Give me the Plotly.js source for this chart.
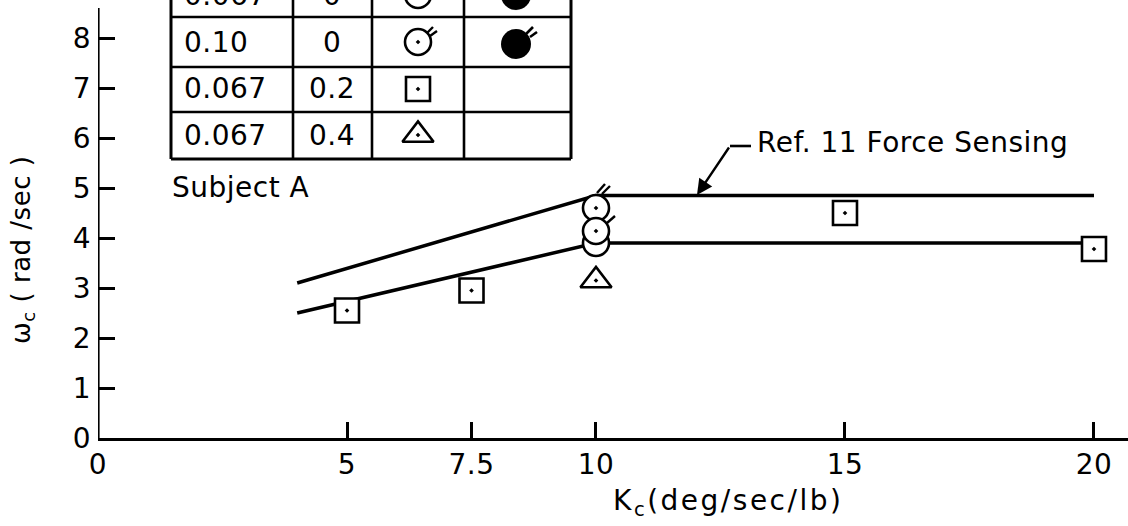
<!DOCTYPE html>
<html>
<head>
<meta charset="utf-8">
<script src="https://cdn.plot.ly/plotly-3.0.1.min.js"></script>
<style>
  html, body { margin: 0; padding: 0; background: #fff; }
  #chart { width: 1128px; height: 526px; }
  text { letter-spacing: 0.5px; }
</style>
</head>
<body>
<div id="chart"></div>
<script>
// Crossover frequency against control gain, Subject A
const squareKc = [5, 7.5, 15, 20];          // tau 0.067, K 0.2
const squareWc = [2.55, 2.95, 4.5, 3.78];
const triangleKc = [10];                     // tau 0.067, K 0.4
const triangleWc = [3.15];
const circleKc = [10];                       // tau 0.067, K 0
const circleWc = [3.9];
const flagCircleKc = [10, 10];               // tau 0.10, K 0
const flagCircleWc = [4.6, 4.14];
const flagCount = [2, 1];

// Ref. 11 force-sensing fairings
const refKc = [4, 10, 20];
const refUpperWc = [3.1, 4.85, 4.85];
const refLowerWc = [2.5, 3.9, 3.9];

// key table contents
const keyTau = ['0.067', '0.10', '0.067', '0.067'];
const keyK = ['0', '0', '0.2', '0.4'];

// axis ticks
const xTickVals = [0, 5, 7.5, 10, 15, 20];
const xTickText = ['0', '5', '7.5', '10', '15', '20'];
const yTickVals = [0, 1, 2, 3, 4, 5, 6, 7, 8];

// plot-area geometry (pixels)
const L = 98, W = 1030, H = 438;
const X_MAX = 20.683, Y_MAX = 8.76;
const pxX = W / X_MAX, pxY = H / Y_MAX;
const dataX = px => (px - L) / pxX;
const dataY = py => (H - py) / pxY;
const paperX = px => (px - L) / W;
const paperY = py => (H - py) / H;

const FONT = 'DejaVu Sans';
const INK = '#000';
const TXT = 28;

const traces = [];
// fairings first so the white-filled symbols sit on top
traces.push({x: refKc, y: refUpperWc, mode: 'lines', line: {color: INK, width: 3.5}, hoverinfo: 'skip'});
traces.push({x: refKc, y: refLowerWc, mode: 'lines', line: {color: INK, width: 3.5}, hoverinfo: 'skip'});

const openMarker = (symbol, size) => ({symbol: symbol, size: size, color: '#fff', line: {color: INK, width: 2.6}});
const pts = (xs, ys, marker) => traces.push({x: xs, y: ys, mode: 'markers', marker: marker, cliponaxis: false, hoverinfo: 'skip'});

pts(squareKc, squareWc, openMarker('square-dot', 24));
pts(triangleKc, triangleWc, openMarker('triangle-up-dot', 27));
pts(circleKc, circleWc, openMarker('circle-dot', 26));
pts(flagCircleKc, flagCircleWc, openMarker('circle-dot', 26));

// key table geometry
const tLeft = 171, tRight = 571, tBottom = 159, tTop = -40;
const colLines = [293, 372, 464];
const rowLines = [17, 67, 112];
const rowMid = [-4, 42, 89, 135];
const symCol = 418, fillCol = 516;

// key symbols (rows 1..3; row 0 sits at the top edge and is drawn as shapes)
pts([dataX(symCol)], [dataY(rowMid[1])], openMarker('circle-dot', 26));
pts([dataX(symCol)], [dataY(rowMid[2])], openMarker('square-dot', 24));
pts([dataX(symCol)], [dataY(rowMid[3])], openMarker('triangle-up-dot', 27));
pts([dataX(fillCol)], [dataY(rowMid[1] + 2)], {symbol: 'circle', size: 30, color: INK});

const shapes = [];
const seg = (x0, y0, x1, y1, w, ref) => shapes.push({
  type: 'line', xref: ref || 'paper', yref: ref === 'x' ? 'y' : 'paper',
  x0: x0, y0: y0, x1: x1, y1: y1, line: {color: INK, width: w}
});

// y axis line
seg(0, 0, 0, 8.6, 3.2, 'x');

// table frame
seg(paperX(tLeft), paperY(tTop), paperX(tLeft), paperY(tBottom), 3);
seg(paperX(tRight), paperY(tTop), paperX(tRight), paperY(tBottom), 3);
colLines.forEach(c => seg(paperX(c), paperY(tTop), paperX(c), paperY(tBottom), 2.6));
rowLines.forEach(r => seg(paperX(tLeft), paperY(r), paperX(tRight), paperY(r), 2.6));
seg(paperX(tLeft), paperY(tBottom), paperX(tRight), paperY(tBottom), 3);

// row 0 key symbols, pixel-sized circles anchored in paper space
const keyCircle = (cx, cy, r, fill, lw) => shapes.push({
  type: 'circle', xref: 'paper', yref: 'paper', xsizemode: 'pixel', ysizemode: 'pixel',
  xanchor: paperX(cx), yanchor: paperY(cy), x0: -r, x1: r, y0: -r, y1: r,
  fillcolor: fill, line: {color: INK, width: lw}
});
keyCircle(symCol, rowMid[0] - 1, 13, '#fff', 2.6);
keyCircle(fillCol, rowMid[0] - 1, 15, INK, 0.1);

// flags on the tau = 0.10 circles (pixel offsets from the symbol centre)
const flagPairs = [[[1, -15], [9, -24]], [[6, -14], [14, -22]]];
const flagSingle = [[[11, -8], [19, -15]]];
function addFlags(cx, cy, ticks, w) {
  ticks.forEach(t => {
    shapes.push({
      type: 'line', xref: 'x', yref: 'y',
      x0: cx + t[0][0] / pxX, y0: cy - t[0][1] / pxY,
      x1: cx + t[1][0] / pxX, y1: cy - t[1][1] / pxY,
      line: {color: INK, width: w}
    });
  });
}
flagCircleKc.forEach((k, i) => addFlags(k, flagCircleWc[i], flagCount[i] === 2 ? flagPairs : flagSingle, 2.4));
addFlags(dataX(symCol), dataY(rowMid[1]), [[[9, -9], [15, -15]], [[12, -6], [19, -11]]], 2.4);
addFlags(dataX(fillCol), dataY(rowMid[1] + 2), [[[10, -10], [17, -17]], [[14, -7], [21, -12]]], 2.6);

// leader for the Ref. 11 label
const tip = [dataX(697), dataY(195)];
const tail = [dataX(730), dataY(146)];
seg(tail[0], tail[1], dataX(751), tail[1], 2.6, 'x');

const txt = (size) => ({family: FONT, size: size, color: INK});
const annotations = [];
keyTau.forEach((t, i) => annotations.push({
  xref: 'paper', yref: 'paper', x: paperX(182), y: paperY(rowMid[i]),
  xanchor: 'left', yanchor: 'middle', text: t, showarrow: false, font: txt(TXT)
}));
keyK.forEach((k, i) => annotations.push({
  xref: 'paper', yref: 'paper', x: paperX(332), y: paperY(rowMid[i]),
  xanchor: 'center', yanchor: 'middle', text: k, showarrow: false, font: txt(TXT)
}));
annotations.push({
  xref: 'paper', yref: 'paper', x: paperX(170), y: paperY(187),
  xanchor: 'left', yanchor: 'middle', text: 'Subject A', showarrow: false, font: txt(TXT)
});
annotations.push({
  xref: 'x', yref: 'y', x: tip[0], y: tip[1], axref: 'x', ayref: 'y', ax: tail[0], ay: tail[1],
  text: '', showarrow: true, arrowhead: 2, arrowsize: 1.3, arrowwidth: 2.4, arrowcolor: INK, standoff: 0
});
annotations.push({
  xref: 'paper', yref: 'paper', x: paperX(755), y: paperY(142),
  xanchor: 'left', yanchor: 'middle', text: 'Ref. 11 Force Sensing', showarrow: false, font: txt(TXT)
});
annotations.push({
  xref: 'paper', yref: 'paper', x: paperX(728), y: paperY(502),
  xanchor: 'center', yanchor: 'middle',
  text: '<span style="letter-spacing:2.5px">K<sub>c</sub>(deg/sec/lb)</span>',
  showarrow: false, font: txt(TXT)
});
annotations.push({
  xref: 'paper', yref: 'paper', x: paperX(22), y: paperY(250),
  xanchor: 'center', yanchor: 'middle', textangle: -90,
  text: 'ω<sub>c</sub> ( rad /sec )', showarrow: false, font: txt(TXT - 2)
});

const layout = {
  width: 1128, height: 526,
  margin: {l: L, r: 1128 - L - W, t: 0, b: 526 - H},
  paper_bgcolor: '#fff', plot_bgcolor: '#fff',
  showlegend: false,
  font: {family: FONT, color: INK},
  xaxis: {
    range: [0, X_MAX], tickmode: 'array', tickvals: xTickVals, ticktext: xTickText,
    ticks: 'inside', ticklen: 16, tickwidth: 3, tickcolor: INK,
    showline: true, linewidth: 3.2, linecolor: INK,
    showgrid: false, zeroline: false, tickfont: txt(TXT), ticklabelstandoff: -1
  },
  yaxis: {
    range: [0, Y_MAX], tickmode: 'array', tickvals: yTickVals,
    ticks: 'inside', ticklen: 17, tickwidth: 3, tickcolor: INK,
    showline: false, showgrid: false, zeroline: false, tickfont: txt(TXT), ticklabelstandoff: 6
  },
  shapes: shapes,
  annotations: annotations
};

Plotly.newPlot('chart', traces, layout, {staticPlot: true, displayModeBar: false});
</script>
</body>
</html>
